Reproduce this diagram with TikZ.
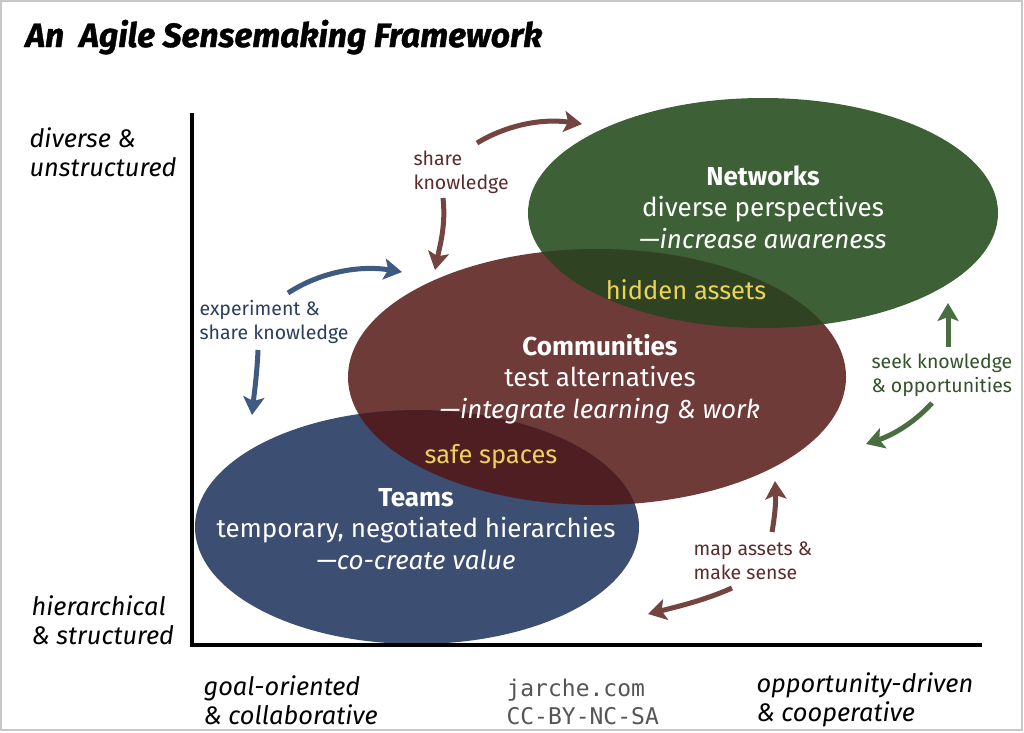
\documentclass[tikz,border=0pt]{standalone}
\usepackage{fontspec}
\setmainfont{Fira Sans}
\setmonofont{DejaVu Sans Mono}
\newfontfamily\titlefont{Fira Sans}[FakeBold=1.2]
\usetikzlibrary{arrows.meta}
\definecolor{netgreen}{HTML}{3E6036}
\definecolor{netdark}{HTML}{2F4322}
\definecolor{combrown}{HTML}{6F3B39}
\definecolor{comdark}{HTML}{4E1E22}
\definecolor{teamblue}{HTML}{3C4F72}
\definecolor{hiliteyellow}{HTML}{EBD35A}
\definecolor{arrbrown}{HTML}{744440}
\definecolor{arrblue}{HTML}{3F5A82}
\definecolor{arrgreen}{HTML}{4A6E40}
\definecolor{txtbrown}{HTML}{5C2C2C}
\definecolor{txtblue}{HTML}{2C3E5E}
\definecolor{txtgreen}{HTML}{34522C}
\definecolor{monogray}{HTML}{555555}
\begin{document}
\begin{tikzpicture}[x=1pt,y=-1pt,
  bigtxt/.style={text=white,align=center,font={\fontsize{26}{31.5}\selectfont}},
  hilite/.style={text=hiliteyellow,font={\fontsize{25.5}{28}\selectfont}},
  smalllabel/.style={anchor=west,align=left,font={\fontsize{19.5}{24}\selectfont}},
  axislabel/.style={anchor=west,align=left,font={\fontsize{25.4}{29}\selectfont\itshape}},
  flowarrow/.style={line width=5pt,-{Stealth[length=18pt,width=21pt,inset=4pt]}},
]
\useasboundingbox (0,0) rectangle (1024,732);
\fill[white] (0,0) rectangle (1024,732);
\draw[black!22,line width=1.5pt] (1,1) rectangle (1022,730);

% title
\node[anchor=base west,font={\fontsize{33.6}{38}\titlefont\bfseries\itshape}] (title) at (22,47) {An\ \ Agile Sensemaking Framework};

% ellipses
\fill[netgreen] (763,213) ellipse [x radius=235, y radius=115];
\fill[combrown] (597,377) ellipse [x radius=249, y radius=128];
\fill[teamblue] (417,527) ellipse [x radius=222, y radius=117];
\begin{scope}
  \clip (763,213) ellipse [x radius=235, y radius=115];
  \fill[netdark] (597,377) ellipse [x radius=249, y radius=128];
\end{scope}
\begin{scope}
  \clip (597,377) ellipse [x radius=249, y radius=128];
  \fill[comdark] (417,527) ellipse [x radius=222, y radius=117];
\end{scope}

% axes
\coordinate (axtop) at (192,113);
\coordinate (origin) at (192,645);
\coordinate (axright) at (982,645);
\draw[line width=4pt] (axtop) -- (origin) -- (axright);

% ellipse texts
\node[bigtxt] (networks) at (763,207) {\textbf{Networks}\\diverse perspectives\\\textit{—increase awareness}};
\node[bigtxt] (communities) at (600,379) {\textbf{Communities}\\test alternatives\\\textit{—integrate learning \& work}};
\node[bigtxt] (teams) at (416,529) {\textbf{Teams}\\temporary, negotiated hierarchies\\\textit{—co-create value}};
\node[hilite] (hidden) at (686,290) {hidden assets};
\node[hilite] (safe) at (491,457) {safe spaces};

% labels
\node[smalllabel,text=txtbrown] (sharek) at (410,172) {share\\knowledge};
\node[smalllabel,text=txtblue] (experiment) at (196,322) {experiment \&\\share knowledge};
\node[smalllabel,text=txtgreen] (seek) at (868,375) {seek knowledge\\\& opportunities};
\node[smalllabel,text=txtbrown] (mapassets) at (690,561) {map assets \&\\make sense};

% axis labels
\node[axislabel] (diverse) at (26,152) {diverse \&\\unstructured};
\node[axislabel] (hier) at (28,620) {hierarchical\\\& structured};
\node[axislabel] (goal) at (200,700) {goal-oriented\\\& collaborative};
\node[axislabel] (opp) at (753,700) {opportunity-driven\\\& cooperative};
\node[anchor=west,align=left,text=monogray,font={\fontsize{23}{28}\ttfamily}] (credit) at (503,702) {jarche.com\\CC-BY-NC-SA};

% arrow end points
\coordinate (a1s) at (477,143); \coordinate (a1e) at (582,124);
\coordinate (a2s) at (443,198); \coordinate (a2e) at (435,270);
\coordinate (b1s) at (288,293); \coordinate (b1e) at (402,272);
\coordinate (b2s) at (258,350); \coordinate (b2e) at (252,415);
\coordinate (g1s) at (948,347); \coordinate (g1e) at (948,303);
\coordinate (g2s) at (932,403); \coordinate (g2e) at (866,444);
\coordinate (m1s) at (772,532); \coordinate (m1e) at (775,481);
\coordinate (m2s) at (732,588); \coordinate (m2e) at (648,614);

\draw[flowarrow,arrbrown] (a1s) .. controls (505,126) and (540,118) .. (a1e);
\draw[flowarrow,arrbrown] (a2s) .. controls (446,225) and (440,245) .. (a2e);
\draw[flowarrow,arrblue] (b1s) .. controls (320,272) and (360,265) .. (b1e);
\draw[flowarrow,arrblue] (b2s) .. controls (257,375) and (254,395) .. (b2e);
\draw[flowarrow,arrgreen] (g1s) .. controls (948,330) and (948,318) .. (g1e);
\draw[flowarrow,arrgreen] (g2s) .. controls (912,425) and (890,436) .. (g2e);
\draw[flowarrow,arrbrown] (m1s) .. controls (775,515) and (776,500) .. (m1e);
\draw[flowarrow,arrbrown] (m2s) .. controls (705,600) and (680,606) .. (m2e);
\end{tikzpicture}
\end{document}
